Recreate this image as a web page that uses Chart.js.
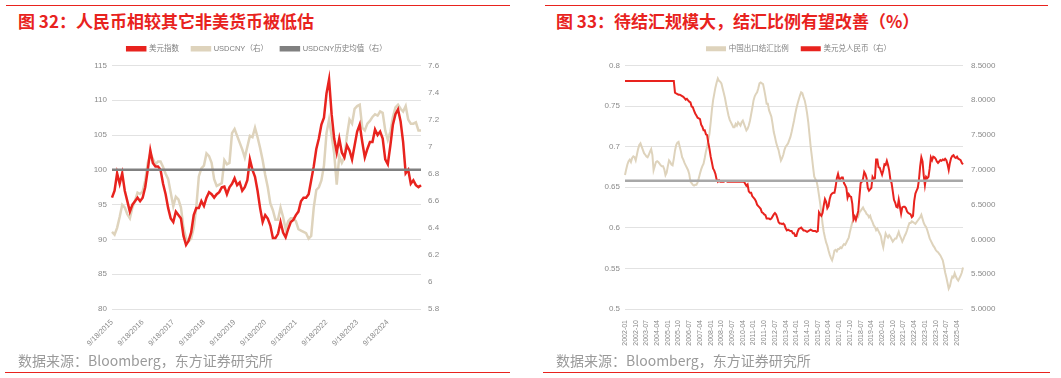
<!DOCTYPE html>
<html>
<head>
<meta charset="utf-8">
<script src="https://cdn.jsdelivr.net/npm/chart.js@4.4.1/dist/chart.umd.min.js"></script>
<style>
  html, body { margin: 0; padding: 0; background: #fff; }
  body { width: 1061px; height: 378px; position: relative; overflow: hidden; font-family: "Noto Sans CJK SC", sans-serif; }
  .rule { position: absolute; height: 1px; background: #e8231e; }
  .title { position: absolute; top: 8px; font-size: 17px; font-weight: bold; color: #e8231e; white-space: nowrap; }
  .src { position: absolute; top: 350px; font-size: 14px; color: #9a9a9a; white-space: nowrap; }
  canvas { position: absolute; }
</style>
</head>
<body>
<div class="rule" style="left:6px; top:5px; width:504px;"></div>
<div class="rule" style="left:5px; top:372px; width:505px;"></div>
<div class="rule" style="left:545px; top:5px; width:503px;"></div>
<div class="rule" style="left:543px; top:372px; width:507px;"></div>

<div class="title" style="left:18px;">图 32：人民币相较其它非美货币被低估</div>
<div class="title" style="left:556px;">图 33：待结汇规模大，结汇比例有望改善（%）</div>

<canvas id="c1" width="530" height="330" style="left:0; top:32px;"></canvas>
<canvas id="c2" width="531" height="330" style="left:530px; top:32px;"></canvas>

<div class="src" style="left:18px;">数据来源：Bloomberg，东方证券研究所</div>
<div class="src" style="left:556px;">数据来源：Bloomberg，东方证券研究所</div>

<script>
// ---- 颜色 ----
const RED = "#e8231e";
const BEIGE = "#ded3bc";
const GRAY1 = "#808080";
const GRAY2 = "#a8a8a8";

// ==== 图 32 数据（月度，2015-09 起） ====
const months1 = [];
for (let y = 2015, m = 9; months1.length < 122; ) {
  months1.push(m + "/18/" + y);
  m++;
  if (m > 12) { m = 1; y++; }
}
const tickLabels1 = ["9/18/2015", "9/18/2016", "9/18/2017", "9/18/2018", "9/18/2019",
  "9/18/2020", "9/18/2021", "9/18/2022", "9/18/2023", "9/18/2024"];

// 美元指数（左轴）
const dxy = [
  96, 97, 99.5, 98,
  99.5, 97, 95.5, 94, 95, 95.5, 96, 95.5, 96, 97.5, 100, 102.8,
  101, 100.5, 100.5, 100, 98, 96.5, 94.5, 93, 92.5, 94, 93.5, 93,
  90.5, 89.2, 89.8, 91, 93.5, 94.5, 94.5, 95.5, 94.8, 96, 96.8, 96.5,
  96, 96.5, 96.8, 97.5, 97.6, 96.5, 97.5, 98, 98.8, 97.8, 98.2, 97,
  97.5, 98.5, 101.5, 100, 99, 97, 94.5, 92.5, 93.5, 93, 92, 90.2,
  90.2, 90.8, 92.5, 91, 90.3, 91.5, 92.5, 92.8, 93.5, 94, 95.5, 96,
  96, 96.5, 98.5, 100.5, 103, 104.5, 106.5, 107.5, 111, 113, 108, 104.5,
  102.5, 104.5, 102.5, 101.8, 103.5, 102.8, 101.5, 103.5, 105.5, 106.5, 104, 101.8,
  103, 104, 104, 105.8, 105, 105.5, 104.5, 101.5, 100.8, 103.5, 106.5, 108,
  108.7, 107, 104, 99.5, 100, 98, 98.5, 97.8, 97.5, 97.8
];

// USDCNY（右轴）
const usdcny1 = [
  6.37, 6.35, 6.40, 6.48,
  6.57, 6.55, 6.50, 6.47, 6.55, 6.60, 6.66, 6.65, 6.67, 6.75, 6.88, 6.95,
  6.91, 6.87, 6.89, 6.89, 6.85, 6.80, 6.76, 6.66, 6.56, 6.63, 6.61, 6.55,
  6.40, 6.32, 6.30, 6.32, 6.40, 6.55, 6.78, 6.84, 6.86, 6.95, 6.93, 6.88,
  6.76, 6.71, 6.72, 6.73, 6.90, 6.87, 6.88, 7.10, 7.13, 7.08, 7.03, 6.98,
  6.92, 7.00, 7.08, 7.07, 7.14, 7.07, 6.99, 6.90, 6.79, 6.70, 6.58, 6.53,
  6.46, 6.46, 6.55, 6.48, 6.39, 6.45, 6.47, 6.47, 6.45, 6.39, 6.38, 6.37,
  6.36, 6.32, 6.34, 6.55, 6.68, 6.70, 6.75, 6.86, 7.10, 7.20, 7.08, 6.95,
  6.72, 6.93, 6.88, 6.92, 7.08, 7.20, 7.17, 7.28, 7.30, 7.31, 7.14, 7.12,
  7.17, 7.19, 7.22, 7.24, 7.23, 7.26, 7.25, 7.12, 7.05, 7.11, 7.22, 7.29,
  7.31, 7.28, 7.26, 7.30, 7.20, 7.17, 7.17, 7.18, 7.12, 7.12
];
const usdcnyAvg1 = 6.83;

// ==== 图 33 数据（月度，2002-01 起） ====
const months2 = [];
for (let y = 2002, m = 1; months2.length < 285; ) {
  months2.push(y + "-" + (m < 10 ? "0" + m : m));
  m++;
  if (m > 12) { m = 1; y++; }
}
const tickLabels2 = ["2002-01", "2002-10", "2003-07", "2004-04", "2005-01", "2005-10", "2006-07",
  "2007-04", "2008-01", "2008-10", "2009-07", "2010-04", "2011-01", "2011-10", "2012-07",
  "2013-04", "2014-01", "2014-10", "2015-07", "2016-04", "2017-01", "2017-10", "2018-07",
  "2019-04", "2020-01", "2020-10", "2021-07", "2022-04", "2023-01", "2023-10", "2024-07", "2025-04"];

// 中国出口结汇比例（左轴）
const settleRatio = [
  0.665, 0.672, 0.678, 0.682, 0.684, 0.681, 0.686, 0.688, 0.687, 0.683, 0.690, 0.697,
  0.702, 0.704, 0.700, 0.696, 0.692, 0.690, 0.688, 0.687, 0.690, 0.694, 0.697, 0.690,
  0.671, 0.676, 0.681, 0.682, 0.681, 0.679, 0.677, 0.676, 0.676, 0.672, 0.665, 0.668,
  0.676, 0.683, 0.681, 0.678, 0.677, 0.685, 0.695, 0.702, 0.705, 0.706, 0.700, 0.694,
  0.687, 0.684, 0.680, 0.677, 0.674, 0.671, 0.666, 0.657, 0.655, 0.653, 0.652, 0.653,
  0.653, 0.656, 0.661, 0.667, 0.672, 0.676, 0.679, 0.686, 0.694, 0.700, 0.708, 0.716,
  0.730, 0.745, 0.757, 0.765, 0.773, 0.779, 0.784, 0.781, 0.780, 0.778, 0.772, 0.766,
  0.760, 0.752, 0.745, 0.738, 0.733, 0.730, 0.727, 0.724, 0.724, 0.728, 0.726, 0.730,
  0.728, 0.726, 0.730, 0.732, 0.728, 0.724, 0.720, 0.722, 0.726, 0.732, 0.740, 0.748,
  0.757, 0.762, 0.765, 0.767, 0.772, 0.778, 0.779, 0.778, 0.777, 0.770, 0.762, 0.753,
  0.753, 0.745, 0.741, 0.737, 0.728, 0.718, 0.712, 0.705, 0.700, 0.696, 0.689, 0.683,
  0.686, 0.690, 0.696, 0.700, 0.702, 0.704, 0.708, 0.712, 0.718, 0.725, 0.732, 0.740,
  0.747, 0.753, 0.758, 0.763, 0.767, 0.766, 0.761, 0.757, 0.750, 0.741, 0.730, 0.715,
  0.700, 0.688, 0.675, 0.663, 0.660, 0.657, 0.650, 0.640, 0.630, 0.618, 0.605, 0.595,
  0.588, 0.582, 0.578, 0.572, 0.567, 0.563, 0.560, 0.565, 0.572, 0.573, 0.571, 0.574,
  0.574, 0.576, 0.575, 0.578, 0.580, 0.579, 0.582, 0.585, 0.588, 0.595, 0.601, 0.607,
  0.609, 0.611, 0.613, 0.616, 0.614, 0.619, 0.621, 0.623, 0.625, 0.622, 0.620, 0.617,
  0.616, 0.613, 0.615, 0.610, 0.607, 0.603, 0.601, 0.597, 0.599, 0.596, 0.593, 0.590,
  0.582, 0.576, 0.585, 0.593, 0.590, 0.588, 0.591, 0.589, 0.586, 0.583, 0.585, 0.587,
  0.587, 0.591, 0.595, 0.590, 0.587, 0.583, 0.586, 0.590, 0.593, 0.597, 0.602, 0.606,
  0.606, 0.608, 0.607, 0.606, 0.605, 0.607, 0.609, 0.611, 0.613, 0.616, 0.611, 0.606,
  0.603, 0.601, 0.597, 0.592, 0.587, 0.584, 0.581, 0.578, 0.576, 0.573, 0.571, 0.570,
  0.568, 0.566, 0.563, 0.560, 0.553, 0.545, 0.539, 0.532, 0.525, 0.528, 0.535, 0.540,
  0.539, 0.544, 0.540, 0.537, 0.535, 0.538, 0.541, 0.545, 0.551
];

// 美元兑人民币（右轴）
const usdcny2 = [
  8.277, 8.277, 8.277, 8.277, 8.277, 8.277, 8.277, 8.277, 8.277, 8.277, 8.277, 8.277,
  8.277, 8.277, 8.277, 8.277, 8.277, 8.277, 8.277, 8.277, 8.277, 8.277, 8.277, 8.277,
  8.277, 8.277, 8.277, 8.277, 8.277, 8.277, 8.277, 8.277, 8.277, 8.277, 8.277, 8.277,
  8.277, 8.277, 8.277, 8.277, 8.277, 8.277, 8.11, 8.10, 8.09, 8.08, 8.08, 8.07,
  8.06, 8.05, 8.03, 8.01, 8.02, 8.00, 7.98, 7.97, 7.91, 7.90, 7.85, 7.81,
  7.78, 7.75, 7.74, 7.73, 7.65, 7.62, 7.57, 7.57, 7.51, 7.50, 7.39, 7.30,
  7.19, 7.11, 7.02, 6.99, 6.94, 6.86, 6.83, 6.85, 6.83, 6.83, 6.83, 6.83,
  6.84, 6.84, 6.83, 6.83, 6.83, 6.83, 6.83, 6.83, 6.83, 6.83, 6.83, 6.83,
  6.83, 6.83, 6.83, 6.83, 6.83, 6.80, 6.77, 6.79, 6.69, 6.67, 6.67, 6.62,
  6.60, 6.58, 6.55, 6.50, 6.48, 6.46, 6.44, 6.39, 6.38, 6.36, 6.35, 6.30,
  6.30, 6.30, 6.29, 6.30, 6.33, 6.36, 6.38, 6.36, 6.31, 6.25, 6.23, 6.23,
  6.22, 6.23, 6.21, 6.16, 6.13, 6.14, 6.13, 6.12, 6.12, 6.09, 6.09, 6.05,
  6.05, 6.11, 6.15, 6.16, 6.17, 6.15, 6.13, 6.13, 6.12, 6.11, 6.12, 6.13,
  6.14, 6.13, 6.12, 6.12, 6.12, 6.11, 6.12, 6.39, 6.36, 6.34, 6.38, 6.49,
  6.58, 6.54, 6.45, 6.48, 6.58, 6.64, 6.66, 6.67, 6.67, 6.76, 6.88, 6.94,
  6.87, 6.87, 6.89, 6.89, 6.81, 6.78, 6.74, 6.60, 6.65, 6.62, 6.61, 6.51,
  6.29, 6.33, 6.28, 6.34, 6.41, 6.62, 6.81, 6.83, 6.87, 6.97, 6.94, 6.88,
  6.74, 6.70, 6.72, 6.74, 6.90, 6.87, 6.88, 7.15, 7.15, 7.04, 7.03, 6.98,
  6.93, 6.99, 7.08, 7.07, 7.13, 7.07, 6.99, 6.86, 6.81, 6.69, 6.57, 6.53,
  6.47, 6.46, 6.57, 6.47, 6.37, 6.46, 6.47, 6.47, 6.45, 6.40, 6.38, 6.37,
  6.36, 6.32, 6.34, 6.55, 6.66, 6.70, 6.74, 6.86, 7.05, 7.18, 7.12, 6.92,
  6.78, 6.90, 6.88, 6.90, 7.02, 7.18, 7.14, 7.19, 7.18, 7.16, 7.12, 7.10,
  7.12, 7.14, 7.13, 7.15, 7.14, 7.16, 7.14, 7.08, 7.00, 7.10, 7.17, 7.20,
  7.21, 7.18, 7.17, 7.19, 7.16, 7.15, 7.14, 7.10, 7.08
];
const settleAvg2 = 0.658;

// ==== 公共设置 ====
Chart.defaults.font.family = '"Liberation Sans", "Noto Sans CJK SC", sans-serif';
Chart.defaults.color = "#8a8a8a";

function lineSet(label, data, axis, color, width, order) {
  return {
    label: label, data: data, yAxisID: axis,
    borderColor: color, backgroundColor: color,
    borderWidth: width, pointRadius: 0, tension: 0, order: order
  };
}

const legendLabels = {
  boxWidth: 18, boxHeight: 3, padding: 13,
  font: { size: 7.5 }, color: "#808080",
  sort: (a, b) => a.datasetIndex - b.datasetIndex
};

// 图例与绘图区之间多留 3px
const legendGap = {
  id: "legendGap",
  beforeInit(chart) {
    const fit = chart.legend.fit;
    chart.legend.fit = function () {
      fit.bind(chart.legend)();
      this.height += 3;
    };
  }
};

// x 轴高度固定为 36，画布多留出空间防止斜标签被裁切
const X_AXIS_H = 36 + 17;

// ==== 图 32 ====
new Chart(document.getElementById("c1"), {
  type: "line",
  data: {
    labels: months1,
    datasets: [
      lineSet("美元指数", dxy, "y", RED, 2.5, 1),
      lineSet("USDCNY（右）", usdcny1, "y1", BEIGE, 2.5, 2),
      lineSet("USDCNY历史均值（右）", months1.map(() => usdcnyAvg1), "y1", GRAY1, 2.5, 0)
    ]
  },
  plugins: [legendGap],
  options: {
    responsive: false,
    animation: false,
    layout: { padding: { top: 0, right: 16, left: 0, bottom: 0 } },
    plugins: {
      legend: { labels: legendLabels },
      tooltip: { enabled: false }
    },
    scales: {
      x: {
        grid: { display: false },
        border: { display: false },
        ticks: {
          autoSkip: false, minRotation: 45, maxRotation: 45, padding: 1,
          font: { size: 7.5 }, color: "#8a8a8a",
          callback: function (v) {
            const lab = this.getLabelForValue(v);
            return tickLabels1.includes(lab) ? lab : "";
          }
        },
        afterFit: (s) => { s.height = X_AXIS_H; }
      },
      y: {
        position: "left", min: 80, max: 115,
        ticks: { stepSize: 5, padding: 5, font: { size: 8 } },
        grid: { color: "#e2e2e2", drawTicks: false },
        border: { display: false },
        afterFit: (s) => { s.width = 112; }
      },
      y1: {
        position: "right", min: 5.8, max: 7.6,
        ticks: { stepSize: 0.2, padding: 7, font: { size: 8 }, callback: (v) => String(+v.toFixed(1)) },
        grid: { display: false, drawTicks: false },
        border: { display: false },
        afterFit: (s) => { s.width = 93; }
      }
    }
  }
});

// ==== 图 33 ====
new Chart(document.getElementById("c2"), {
  type: "line",
  data: {
    labels: months2,
    datasets: [
      lineSet("中国出口结汇比例", settleRatio, "y", BEIGE, 2, 2),
      lineSet("美元兑人民币（右）", usdcny2, "y1", RED, 2, 1),
      lineSet("均值", months2.map(() => settleAvg2), "y", GRAY2, 2.5, 0)
    ]
  },
  plugins: [legendGap],
  options: {
    responsive: false,
    animation: false,
    layout: { padding: { top: 0, right: 0, left: 7, bottom: 0 } },
    plugins: {
      legend: { labels: Object.assign({}, legendLabels, { filter: (item) => item.text !== "均值" }) },
      tooltip: { enabled: false }
    },
    scales: {
      x: {
        grid: { display: false },
        border: { display: false },
        ticks: {
          autoSkip: false, minRotation: 90, maxRotation: 90, padding: 3,
          font: { size: 7 }, color: "#8a8a8a",
          callback: function (v) {
            const lab = this.getLabelForValue(v);
            return tickLabels2.includes(lab) ? lab : "";
          }
        },
        afterFit: (s) => { s.height = X_AXIS_H; }
      },
      y: {
        position: "left", min: 0.5, max: 0.8,
        ticks: { stepSize: 0.05, padding: 5, font: { size: 8 }, callback: (v) => String(+v.toFixed(2)) },
        grid: { color: "#e2e2e2", drawTicks: false },
        border: { display: false },
        afterFit: (s) => { s.width = 88; }
      },
      y1: {
        position: "right", min: 5, max: 8.5,
        ticks: { stepSize: 0.5, padding: 8, font: { size: 8 }, callback: (v) => v.toFixed(4) },
        grid: { display: false, drawTicks: false },
        border: { display: false },
        afterFit: (s) => { s.width = 98; }
      }
    }
  }
});
</script>
</body>
</html>
